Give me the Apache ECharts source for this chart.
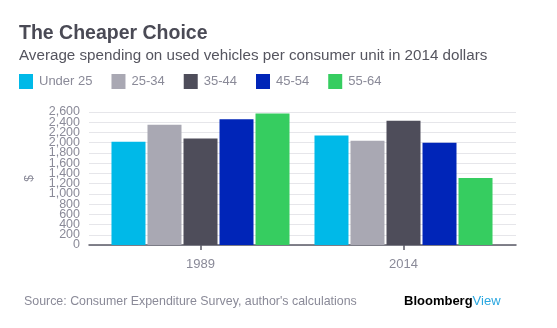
<!DOCTYPE html>
<html><head><meta charset="utf-8">
<script src="https://cdn.jsdelivr.net/npm/echarts@6/dist/echarts.min.js"></script>
<style>html,body{margin:0;padding:0;background:#fff}#c{width:557px;height:328px}</style>
</head><body><div id="c"></div>
<script>
const categories = ['1989', '2014'];
const seriesNames = ['Under 25', '25-34', '35-44', '45-54', '55-64'];
const under25 = [2020, 2140];
const age25_34 = [2350, 2040];
const age35_44 = [2080, 2430];
const age45_54 = [2460, 2000];
const age55_64 = [2570, 1310];
const yTicks = [0, 200, 400, 600, 800, 1000, 1200, 1400, 1600, 1800, 2000, 2200, 2400, 2600];
const colors = ['#00b9e8', '#a9a8b3', '#4e4d5a', '#0025b8', '#36cd60'];
const values = [under25, age25_34, age35_44, age45_54, age55_64];

const font = 'Liberation Sans, Arial, sans-serif';
const labelBase = {color: '#8a8a98', fontSize: 12.5, margin: 9,
  showMinLabel: true, showMaxLabel: true, hideOverlap: false};
const chart = echarts.init(document.getElementById('c'), null, {renderer: 'canvas'});
chart.setOption({
  animation: false,
  backgroundColor: '#fff',
  textStyle: {fontFamily: font},
  title: [
    {text: 'The Cheaper Choice', left: 19, top: 24, padding: 0, textStyle: {fontSize: 19.5, fontWeight: 'bold', color: '#4a4a55', fontFamily: font}},
    {text: 'Average spending on used vehicles per consumer unit in 2014 dollars', left: 19, top: 48, padding: 0, textStyle: {fontSize: 15.2, fontWeight: 'normal', color: '#55555f', fontFamily: font}}
  ],
  legend: {
    left: 19, top: 74, padding: 0, itemWidth: 14, itemHeight: 15, itemGap: 19,
    icon: 'rect',
    data: seriesNames,
    textStyle: {fontSize: 13, color: '#8a8a98', fontFamily: font, padding: [0, 0, 0, 1]}
  },
  grid: [
    {left: 99, right: 52, top: 112, bottom: 83},
    {left: 89, right: 41, top: 112, bottom: 83}
  ],
  xAxis: [
    {type: 'category', gridIndex: 0, data: categories,
     axisLine: {show: false}, axisTick: {show: true, alignWithLabel: true, length: 5, lineStyle: {color: '#5a5a66', width: 1.5}},
     axisLabel: {color: '#8a8a98', fontSize: 13, margin: 13}},
    {type: 'category', gridIndex: 1, data: categories,
     axisLine: {show: true, lineStyle: {color: '#5a5a66', width: 1.5}},
     axisTick: {show: false}, axisLabel: {show: false}}
  ],
  yAxis: [
    {type: 'value', gridIndex: 0, min: 0, max: 2600, interval: 200, show: false, splitLine: {show: false}},
    {type: 'value', gridIndex: 1, min: 0, max: 2600, interval: 200, position: 'left', offset: 0,
     name: '$', nameLocation: 'middle', nameGap: 53, nameRotate: 90,
     nameTextStyle: {color: '#8a8a98', fontSize: 12},
     axisLine: {show: false}, axisTick: {show: false},
     axisLabel: Object.assign({}, labelBase, {
       formatter: v => (yTicks.includes(v) && v % 400 === 0) ? v.toLocaleString('en-US') : ''}),
     splitLine: {lineStyle: {color: '#e6e6ea', width: 1}}},
    {type: 'value', gridIndex: 1, min: 0, max: 2600, interval: 200, position: 'left', offset: 0,
     axisLine: {show: false}, axisTick: {show: false},
     axisLabel: Object.assign({}, labelBase, {
       formatter: v => (yTicks.includes(v) && v % 400 === 200) ? v.toLocaleString('en-US') : ''}),
     splitLine: {show: false}}
  ],
  series: seriesNames.map((n, i) => ({
    name: n, type: 'bar', xAxisIndex: 0, yAxisIndex: 0,
    data: values[i], barWidth: 34, barGap: '5.9%',
    itemStyle: {color: colors[i]}
  })),
  graphic: [
    {type: 'text', left: 24, top: 296, style: {text: "Source: Consumer Expenditure Survey, author's calculations", fill: '#8a8a98', fontSize: 12.4, fontFamily: font}},
    {type: 'text', left: 404, top: 295, style: {
      text: '{a|Bloomberg}{b|View}',
      rich: {a: {fontSize: 13, fontWeight: 'bold', fill: '#000', fontFamily: font},
             b: {fontSize: 13, fill: '#2aa7e0', fontFamily: font}}}}
  ]
});
</script></body></html>
